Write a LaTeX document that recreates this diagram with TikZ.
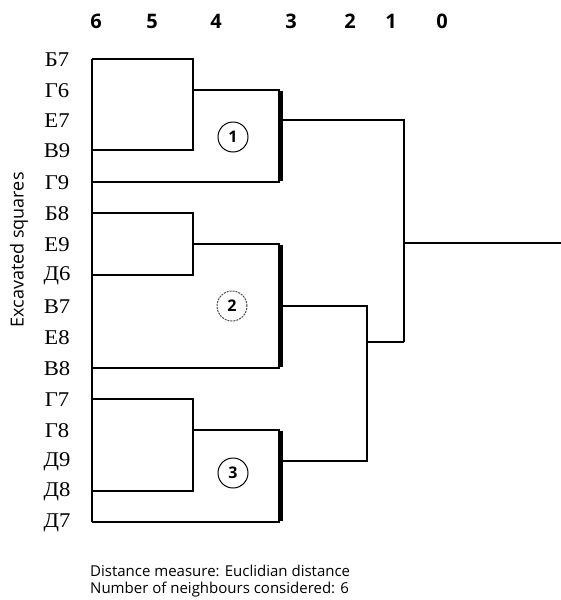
\documentclass[tikz,border=0pt]{standalone}
\usepackage{fontspec}
\setmainfont[FakeStretch=1.08]{Liberation Serif}
\newfontfamily\labelsans{Open Sans}
\begin{document}
\begin{tikzpicture}[x=1pt,y=-1pt,
  leaf/.style={font=\fontsize{21}{21}\selectfont, inner sep=0pt},
  tick/.style={font=\labelsans\bfseries\fontsize{20}{20}\selectfont, inner sep=0pt},
  branch/.style={line width=1.5pt},
  trunk/.style={line width=1.3pt},
  bar/.style={line width=5pt},
  tag/.style={circle, draw, line width=1pt, minimum size=30pt, inner sep=0pt,
    font=\labelsans\bfseries\fontsize{16}{16}\selectfont},
  faint/.style={draw=black!70, dash pattern=on 2pt off 1pt}]
\useasboundingbox (0,0) rectangle (561,600);

% distance scale
\foreach \v/\x in {6/96, 5/152, 4/216, 3/291, 2/350, 1/391, 0/442}
  \node[tick] (d\v) at (\x,21) {\v};

% leaves (excavated squares) and the start of their branches
\foreach \n/\t/\y in {1/Б7/59, 2/Г6/90, 3/Е7/120, 4/В9/150, 5/Г9/182, 6/Б8/213,
    7/Е9/244, 8/Д6/275, 9/В7/306, 10/Е8/337, 11/В8/368, 12/Г7/399, 13/Г8/430,
    14/Д9/461, 15/Д8/491, 16/Д7/522} {
  \node[leaf] (lab\n) at (57,\y+1) {\t};
  \coordinate (s\n) at (92,\y);
}

% joins and cluster outlets
\coordinate (j1) at (193,90);
\coordinate (j2) at (193,244);
\coordinate (j3) at (193,430);
\coordinate (c1) at (280,120);
\coordinate (c2) at (280,306);
\coordinate (c3) at (280,461);
\coordinate (k23) at (367,342);
\coordinate (root) at (404,243);
\coordinate (rootend) at (561,243);

% common left spine
\draw[branch] (s1) -- (s16);

% cluster 1
\draw[branch] (s1) -- (s1 -| j1) -- (s4 -| j1) -- (s4);
\draw[branch] (j1) -- (j1 -| c1);
\draw[branch] (s5) -- (s5 -| c1);
\draw[bar] ([yshift=-0.75pt]j1 -| c1) -- ([yshift=0.75pt]s5 -| c1);

% cluster 2
\draw[branch] (s6) -- (s6 -| j2) -- (s8 -| j2) -- (s8);
\draw[branch] (j2) -- (j2 -| c2);
\draw[branch] (s11) -- (s11 -| c2);
\draw[bar] ([yshift=-0.75pt]j2 -| c2) -- ([yshift=0.75pt]s11 -| c2);

% cluster 3
\draw[branch] (s12) -- (s12 -| j3) -- (s15 -| j3) -- (s15);
\draw[branch] (j3) -- (j3 -| c3);
\draw[branch] (s16) -- (s16 -| c3);
\draw[bar] ([yshift=-0.75pt]j3 -| c3) -- ([yshift=0.75pt]s16 -| c3);

% higher-level merges
\draw[trunk] (c2) -- (c2 -| k23) -- (c3 -| k23) -- (c3);
\draw[trunk] (k23) -- (k23 -| root);
\draw[trunk] (c1) -- (c1 -| root) -- (k23 -| root);
\draw[line width=1.2pt] (root) -- (rootend);

% cluster tags
\node[tag] (t1) at (233,137) {1};
\node[tag, faint] (t2) at (232,306) {2};
\node[tag] (t3) at (233,473) {3};

% axis title
\node[font=\labelsans\fontsize{18}{18}\selectfont, rotate=90, inner sep=0pt]
  (ytitle) at (19,250) {Excavated squares};

% caption
\node[font=\labelsans\fontsize{15}{17}\selectfont, align=left, anchor=north west,
  inner sep=0pt] (caption) at (90,565)
  {Distance measure: Euclidian distance\\Number of neighbours considered: 6};
\end{tikzpicture}
\end{document}
